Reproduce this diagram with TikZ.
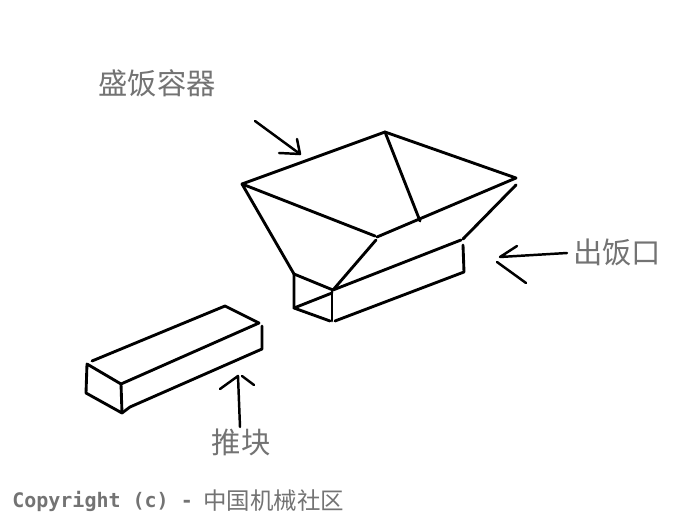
\documentclass[tikz,border=0pt]{standalone}
\usepackage{fontspec}
\newfontfamily\cjk{Noto Sans CJK SC}
\newfontfamily\monof{DejaVu Sans Mono}
\tikzset{
  sketch/.style={line width=2.15pt,line cap=round,line join=round,black},
  thin sketch/.style={sketch,line width=1.85pt},
  labeltext/.style={inner sep=0pt,text=black!55,font=\cjk\fontsize{22pt}{24pt}\selectfont},
  marktext/.style={inner sep=0pt,text=black!55,anchor=west}
}
\begin{document}
\begin{tikzpicture}[x=0.75pt,y=-0.75pt]
\useasboundingbox (0,0) rectangle (692,520);
% hopper corners
\coordinate (hT) at (385,132);
\coordinate (hL) at (242,184);
\coordinate (hR) at (516,178);
\coordinate (hRb) at (516,185);
\coordinate (hF) at (377,237);
\coordinate (hM) at (420,221);
\coordinate (hE) at (463,239);
\coordinate (hEa) at (463,245);
\coordinate (hEb) at (464,272);
\coordinate (oA) at (294,274);
\coordinate (oB) at (333,290);
\coordinate (oC) at (294,308);
\coordinate (oD) at (330,321);
\coordinate (oE) at (335,321);
\draw[sketch] (hL) -- (hT) -- (hR) -- (hF);
\draw[sketch] (hL) -- (375,236);
\draw[sketch] (hT) -- (hM);
\draw[sketch] (hRb) -- (hE);
\draw[sketch] (hL) -- (oA) -- (oB) -- (376,240);
\draw[sketch] (oB) -- (461,240);
\draw[sketch] (hEa) -- (hEb) -- (oE);
\draw[sketch] (oA) -- (oC) -- (oD);
\draw[sketch] (oC) -- (332,293);
\draw[sketch] (332,290) -- (332,321);
% block
\coordinate (bA) at (92,361);
\coordinate (bB) at (225,306);
\coordinate (bC) at (259,323);
\coordinate (bD) at (121,384);
\coordinate (bE) at (87,364);
\coordinate (bF) at (86,393);
\coordinate (bG) at (122,413);
\coordinate (bH) at (262,326);
\coordinate (bI) at (262,349);
\coordinate (bJ) at (130,407);
\draw[sketch] (bA) -- (bB) -- (bC) -- (bD) -- (bE) -- (bF) -- (bG) -- (bD);
\draw[sketch] (bG) -- (bJ) -- (bI) -- (bH);
% arrows
\coordinate (a1s) at (255,121);
\coordinate (a1t) at (300,154);
\coordinate (a1u) at (297,139);
\coordinate (a1v) at (279,153);
\draw[thin sketch] (a1s) -- (a1t) -- (a1u);
\draw[thin sketch] (a1v) -- (a1t);
\coordinate (a2s) at (567,253);
\coordinate (a2t) at (500,257);
\coordinate (a2u) at (517,246);
\coordinate (a2v) at (497,262);
\coordinate (a2w) at (526,283);
\draw[thin sketch] (a2s) -- (a2t) -- (a2u);
\draw[thin sketch] (a2v) -- (a2w);
\coordinate (a3s) at (240,427);
\coordinate (a3t) at (238,376);
\coordinate (a3u) at (220,389);
\coordinate (a3v) at (242,376);
\coordinate (a3w) at (254,385);
\draw[thin sketch] (a3s) -- (a3t) -- (a3u);
\draw[thin sketch] (a3v) -- (a3w);
% labels
\node[labeltext] (l1) at (157,83) {\cjk 盛饭容器};
\node[labeltext] (l2) at (617,252) {\cjk 出饭口};
\node[labeltext] (l3) at (241,442) {\cjk 推块};
\node[marktext] (c1) at (12,501) {\monof\bfseries\fontsize{15pt}{17pt}\selectfont Copyright (c) -};
\node[marktext] (c2) at (203,501) {\cjk\fontsize{17.6pt}{19pt}\selectfont 中国机械社区};
\end{tikzpicture}
\end{document}
